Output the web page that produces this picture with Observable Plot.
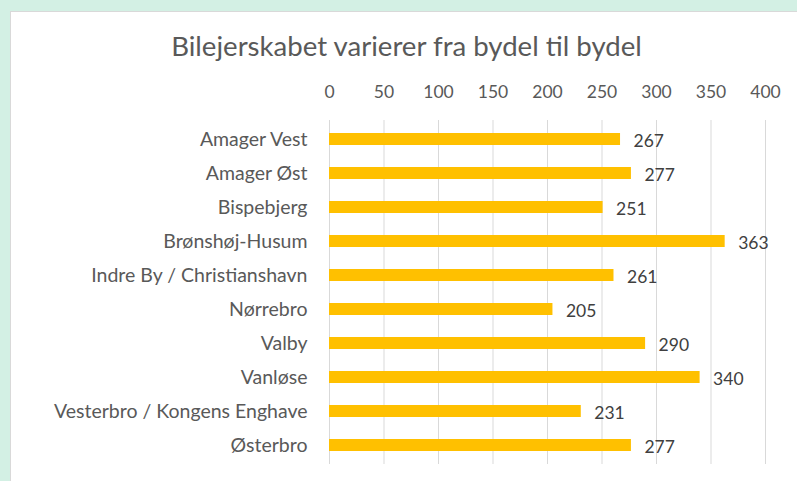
<!DOCTYPE html>
<html>
<head>
<meta charset="utf-8">
<script src="https://cdn.jsdelivr.net/npm/d3@7"></script>
<script src="https://cdn.jsdelivr.net/npm/@observablehq/plot@0.6"></script>
<style>
  html, body { margin: 0; padding: 0; }
  body { width: 797px; height: 481px; background: #d3f0e4; position: relative; overflow: hidden; font-family: Lato, "Open Sans", sans-serif; }
  #panel { position: absolute; left: 10px; top: 11px; width: 787px; height: 470px; background: #fff; border-left: 1px solid #d9d9d9; border-top: 1px solid #d9d9d9; box-sizing: border-box; }
  #title { height: 61px; box-sizing: border-box; padding-top: 19px; text-align: center; width: 791px; margin-left: 0; font-size: 27.6px; color: #595959; line-height: 30px; white-space: nowrap; }
  #chart svg { display: block; }
</style>
</head>
<body>
<div id="panel">
  <div id="title">Bilejerskabet varierer fra bydel til bydel</div>
  <div id="chart"></div>
</div>
<script>
const districts = [
  "Amager Vest",
  "Amager Øst",
  "Bispebjerg",
  "Brønshøj-Husum",
  "Indre By / Christianshavn",
  "Nørrebro",
  "Valby",
  "Vanløse",
  "Vesterbro / Kongens Enghave",
  "Østerbro"
];
const values = [267, 277, 251, 363, 261, 205, 290, 340, 231, 277];
const xTicks = [0, 50, 100, 150, 200, 250, 300, 350, 400];

const data = districts.map((d, i) => ({district: d, value: values[i]}));

const chart = Plot.plot({
  width: 786,
  height: 408,
  marginTop: 47,
  marginBottom: 17,
  marginLeft: 318,
  marginRight: 32,
  style: {fontFamily: "Lato, 'Open Sans', sans-serif", color: "#595959", background: "transparent"},
  x: {domain: [0, 400], ticks: xTicks},
  y: {domain: districts, paddingInner: 0.65, paddingOuter: 0.325},
  marks: [
    Plot.gridX(xTicks, {stroke: "#d9d9d9", strokeOpacity: 1, strokeWidth: 1}),
    Plot.axisX(xTicks, {anchor: "top", tickSize: 0, tickPadding: 23, fontSize: 17.5, fill: "#595959", label: null}),
    Plot.axisY({tickSize: 0, tickPadding: 22, fontSize: 19.5, fill: "#595959", label: null}),
    Plot.barX(data, {x: "value", y: "district", fill: "#FFC000"}),
    Plot.text(data, {x: "value", y: "district", text: d => String(d.value), textAnchor: "start", dx: 13, dy: 2, fontSize: 17.5, fill: "#404040"})
  ]
});
document.getElementById("chart").appendChild(chart);
</script>
</body>
</html>
